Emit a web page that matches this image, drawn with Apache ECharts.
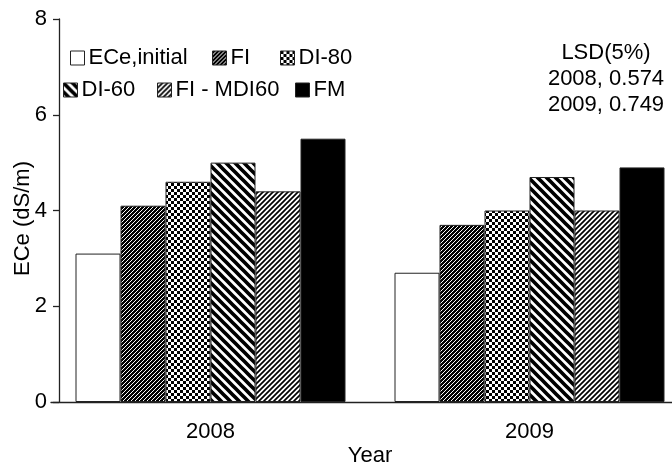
<!DOCTYPE html>
<html>
<head>
<meta charset="utf-8">
<script src="https://cdn.jsdelivr.net/npm/echarts@6/dist/echarts.min.js"></script>
<style>html,body{margin:0;padding:0;background:#fff}#c{width:672px;height:465px}</style>
</head>
<body>
<div id="c"></div>
<script>
// ---- data ----
const categories = ['2008', '2009'];
const seriesNames = ['ECe,initial', 'FI', 'DI-80', 'DI-60', 'FI - MDI60', 'FM'];
const eceInitial = [3.1, 2.7];
const fi = [4.1, 3.7];
const di80 = [4.6, 4.0];
const di60 = [5.0, 4.7];
const fiMdi60 = [4.4, 4.0];
const fm = [5.5, 4.9];
const yTicks = [0, 2, 4, 6, 8];
const lsdLines = ['LSD(5%)', '2008, 0.574', '2009, 0.749'];

// ---- fill patterns ----
function tile(size, draw) {
  const c = document.createElement('canvas');
  c.width = size; c.height = size;
  const g = c.getContext('2d');
  draw(g, size);
  return { image: c, repeat: 'repeat' };
}
function diag(g, s, dir, w, color) {
  g.strokeStyle = color; g.lineWidth = w; g.lineCap = 'square';
  g.beginPath();
  if (dir === '/') {
    g.moveTo(-s, s); g.lineTo(s, -s);
    g.moveTo(0, 2 * s); g.lineTo(2 * s, 0);
    g.moveTo(-s, 2 * s); g.lineTo(2 * s, -s);
  } else {
    g.moveTo(-s, 0); g.lineTo(s, 2 * s);
    g.moveTo(0, -s); g.lineTo(2 * s, s);
    g.moveTo(-s, -s); g.lineTo(2 * s, 2 * s);
  }
  g.stroke();
}
const fills = [
  '#ffffff',
  tile(4, (g, s) => { g.fillStyle = '#000'; g.fillRect(0, 0, s, s); diag(g, s, '/', 1.0, '#fff'); }),
  tile(6, (g, s) => { g.fillStyle = '#fff'; g.fillRect(0, 0, s, s); g.fillStyle = '#000'; g.fillRect(0, 0, 3, 3); g.fillRect(3, 3, 3, 3); }),
  tile(9, (g, s) => { g.fillStyle = '#fff'; g.fillRect(0, 0, s, s); diag(g, s, '\\', 3.7, '#000'); }),
  tile(5, (g, s) => { g.fillStyle = '#fff'; g.fillRect(0, 0, s, s); diag(g, s, '/', 1.7, '#000'); }),
  '#000000'
];
const values = [eceInitial, fi, di80, di60, fiMdi60, fm];

// ---- layout ----
const FONT = '"Liberation Sans", Arial, sans-serif';
const legendPos = [[70, 47], [212, 47], [280, 47], [63, 79], [157, 79], [295, 79]];

const chart = echarts.init(document.getElementById('c'), null, { renderer: 'canvas' });
chart.setOption({
  animation: false,
  backgroundColor: '#fff',
  textStyle: { fontFamily: FONT, color: '#000' },
  grid: { left: 51, top: 19, width: 638, bottom: 63, containLabel: false, outerBoundsMode: 'none' },
  legend: seriesNames.map((n, i) => ({
    data: [n],
    left: legendPos[i][0], top: legendPos[i][1],
    padding: 0, itemWidth: 14, itemHeight: 14, itemGap: 0,
    icon: 'rect', selectedMode: false,
    itemStyle: { borderColor: '#222', borderWidth: 1 },
    textStyle: { fontSize: 22, fontFamily: FONT, color: '#000', padding: [0, 0, 0, -1] }
  })),
  xAxis: {
    type: 'category',
    data: categories,
    name: 'Year', nameLocation: 'middle', nameGap: 43, nameMoveOverlap: false,
    nameTextStyle: { fontSize: 22, fontFamily: FONT, color: '#000' },
    axisLine: { lineStyle: { color: '#222', width: 1.3 } },
    axisTick: { show: false },
    axisLabel: { fontSize: 22, fontFamily: FONT, color: '#000', margin: 19 }
  },
  yAxis: {
    type: 'value', min: 0, max: 8, interval: 2,
    offset: -8,
    name: 'ECe (dS/m)', nameLocation: 'middle', nameGap: 25, nameRotate: 90, nameMoveOverlap: false,
    nameTextStyle: { fontSize: 22, fontFamily: FONT, color: '#000', padding: [0, 16, 0, 0] },
    axisLine: { show: true, lineStyle: { color: '#222', width: 1.3 } },
    axisTick: { show: true, inside: false, length: 6, lineStyle: { color: '#222', width: 1.3 } },
    axisLabel: { fontSize: 22, fontFamily: FONT, color: '#000', margin: 12,
      formatter: v => (yTicks.includes(v) ? String(v) : '') },
    splitLine: { show: false }
  },
  series: seriesNames.map((n, i) => ({
    name: n, type: 'bar', data: values[i],
    barWidth: 45, barGap: '0%',
    itemStyle: { color: fills[i], borderColor: '#222', borderWidth: 1 }
  })),
  graphic: [{
    type: 'text', x: 606, y: 40,
    style: { text: lsdLines.join('\n'), font: '22px ' + FONT, textAlign: 'center', lineHeight: 26, fill: '#000' }
  }]
});
</script>
</body>
</html>
